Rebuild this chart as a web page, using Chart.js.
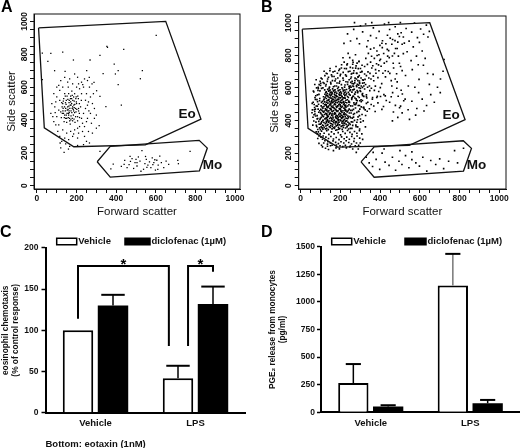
<!DOCTYPE html>
<html>
<head>
<meta charset="utf-8">
<script src="https://cdn.jsdelivr.net/npm/chart.js@4.4.0/dist/chart.umd.min.js"></script>
<style>
html, body { margin: 0; padding: 0; background: #fff; }
#fig { position: relative; width: 520px; height: 448px; overflow: hidden; font-family: "Liberation Sans", Arial, sans-serif; }
.panel { position: absolute; }
.letter { position: absolute; font-weight: bold; font-size: 16px; line-height: 1; color: #000; }
</style>
</head>
<body>
<div id="fig">
  <div class="panel" style="left:0;top:0;width:260px;height:224px"><canvas id="chartA"></canvas></div>
  <div class="panel" style="left:260px;top:0;width:260px;height:224px"><canvas id="chartB"></canvas></div>
  <div class="panel" style="left:0;top:225px;width:260px;height:223px"><canvas id="chartC"></canvas></div>
  <div class="panel" style="left:260px;top:225px;width:260px;height:223px"><canvas id="chartD"></canvas></div>
  <div class="letter" style="left:1px;top:-1px">A</div>
  <div class="letter" style="left:261px;top:-1px">B</div>
  <div class="letter" style="left:0px;top:224px">C</div>
  <div class="letter" style="left:261px;top:224px">D</div>
</div>
<script>
// ---------- Dados ----------
const scatterTickLabels = [0, 200, 400, 600, 800, 1000];
const eoGate = [[8,960],[650,1000],[828,405],[547,248],[186,237],[37,352],[8,960]];
const moGate = [[304,146],[370,239],[819,276],[860,229],[820,90],[370,52],[304,146]];

const eventsA = `
155,480 162,455 148,520 170,510 140,430 178,470 190,445 165,395 132,470 185,540 150,410 200,500 172,425 125,505 160,560 195,470
143,545 180,395 210,455 168,490 137,390 152,440 188,515 205,420 176,575 128,440 163,520 198,540 145,470 184,430 158,600 214,500
172,455 135,530 192,385 160,430 147,495 201,465 175,530 123,415 168,375 186,490 157,465 140,560 209,530 178,410 131,455 195,420
162,505 150,385 220,480 183,465 144,505 170,545 205,395 127,480 190,560 159,440 172,490 138,415 214,440 181,520 152,545 199,510
165,410 130,500 187,405 156,525 176,445 143,455 224,520 166,470 191,495 134,440 206,545 158,415 180,480 148,430 169,530 197,450
161,485 139,480 210,470 175,500 153,460 185,455 120,450 163,445 196,530 145,410 178,550 215,415 133,515 171,400 188,475
90,480 75,500 100,420 85,560 110,610 95,370 105,330 80,420 115,520 70,440 235,600 250,560 260,510 245,470 270,440 230,380
255,410 280,500 240,650 225,630 265,600 290,470 275,380 300,430 285,560 230,330 210,320 190,340 170,330 150,320 130,340 115,300
140,290 160,280 180,300 205,290 240,300 260,330 280,320 125,270 145,255 250,270 235,250 265,260 100,600 120,640 140,660 165,650
190,680 210,620 180,620 130,600 115,580 95,510 85,390 110,370 225,560 245,520 215,590 235,440 255,490 270,540 225,410 240,360
215,360 205,660 255,640 278,620 200,600 155,630 110,460 100,540 92,445 262,455 290,410 300,350 250,390 205,350 185,315
602,915 356,842 438,830 27,807 130,813 55,757 184,765 268,765 318,793 390,740 89,700 142,696 410,700 396,680 532,700 522,651
334,682 410,615 27,645 426,491 348,481 314,365 301,578 318,544 264,659 251,700 288,629 231,615 353,848 70,805
137,203 159,223 117,260 318,209 205,245 120,230 165,240
385,132 426,118 443,154 472,148 480,165 495,140 505,120 512,175 520,150 530,213 538,100 545,135 552,160 560,125 568,145 575,110
582,170 590,140 598,95 605,155 612,125 620,180 628,140 640,110 652,150 665,130 711,154 714,134 773,209 373,103 455,110 465,128
488,105 500,160 525,88 548,178 585,128 610,100 470,178 440,130 505,140 555,112 595,158`;

const eventsB = `
112,347 131,352 139,344 158,349 166,356 183,343 197,351 209,346 226,354 241,348
103,361 118,358 127,366 144,362 151,369 172,360 179,367 190,358 204,364 218,371 233,360
99,377 110,372 124,381 137,375 149,383 161,374 175,379 188,385 196,373 213,380 229,376 244,383
106,392 117,388 129,395 141,390 154,398 167,387 181,394 193,390 202,399 215,391 226,396 238,389
97,406 113,402 122,410 135,404 146,412 158,406 170,401 185,409 198,404 207,413 221,407 236,411
104,419 115,424 128,417 139,425 151,420 163,416 176,423 189,418 199,426 212,419 224,424 240,418
109,433 120,437 133,430 144,438 156,433 168,440 179,431 192,436 205,432 216,439 231,434
100,447 116,451 126,444 138,452 149,446 160,454 172,448 183,455 195,445 208,451 219,447 234,453 245,446
107,462 119,458 131,466 142,460 153,467 165,461 177,469 188,459 201,465 213,460 226,467 239,461
112,476 124,472 136,479 147,474 159,481 170,475 182,482 194,473 206,480 218,476 230,483
103,490 117,486 128,494 140,488 152,495 163,489 175,497 187,490 199,496 210,487 222,493 237,489
114,504 126,500 137,507 149,502 160,509 172,503 184,510 196,501 207,508 219,503 232,509
110,518 121,514 133,521 145,516 156,523 168,517 180,524 191,515 203,522 216,517 228,524 242,519
118,531 129,535 141,529 153,537 165,530 176,538 188,532 200,539 211,531 224,537
115,546 127,550 139,544 150,551 162,546 174,553 186,547 197,554 209,545 222,552 236,547
122,561 134,566 146,559 158,565 170,560 182,567 194,561 205,568 218,562 231,566
129,576 141,580 153,574 165,582 177,575 189,583 201,576 214,581 226,575
136,591 149,587 161,594 173,588 186,596 198,589 211,593 223,587
108,355 125,349 149,357 170,351 192,347 215,358 235,365 114,368 133,371 160,364 186,372 210,368 240,372
103,384 130,386 156,380 178,388 207,385 222,384 111,399 135,398 162,394 189,400 216,401 232,398
99,414 128,411 155,414 181,415 204,418 229,414 110,428 137,427 162,428 186,427 211,428 238,427
104,440 130,441 158,441 175,442 201,441 226,440 112,455 133,458 156,458 180,460 204,457 228,459
101,469 127,468 150,473 174,466 197,470 222,471 244,470 108,483 131,484 155,486 179,486 201,485 225,484
121,497 146,496 169,499 192,498 216,498 243,497 105,511 130,512 154,514 176,513 199,513 224,512
116,526 139,525 162,527 185,527 208,526 235,527 123,541 147,540 170,542 193,540 217,540 240,541
131,556 155,557 179,555 203,556 228,557 126,571 149,571 171,571 196,570 220,571 240,573 144,585 167,583 192,584 217,585 231,590
143,397 176,418 128,463 201,489 159,532 187,376 214,512 136,551 171,441 197,425 152,506 223,462 181,547 134,418 209,395
165,478 192,528 147,444 219,538 176,392 129,497 204,456 158,571 186,489 141,527 213,423 168,402 195,559 153,469 227,494
181,431 137,482 208,548 162,513 189,406 145,561 221,436 173,524 199,472 131,439
62,420 71,455 68,498 77,390 83,430 88,470 74,530 85,515 92,560 66,575 80,600 91,395 95,355 86,345 79,370 70,480 90,500
96,535 87,585 93,620 72,440 83,410 59,465 98,640 76,552 84,488
57,448 63,512 66,397 69,466 72,541 75,428 78,489 81,362 84,557 86,412 88,603 91,451 93,377 95,521 97,582 99,344 101,628
64,580 71,621 78,650 85,318 92,305 58,505 61,372 67,435 74,470 82,528 89,596 96,460 103,660
250,352 262,370 255,392 271,401 248,425 266,438 283,450 259,462 276,477 252,490 290,492 268,508 281,525 257,537 295,541
249,556 272,563 288,578 263,588 301,598 254,604 310,560 298,470 305,515 286,405 296,430 315,480 279,362 302,390 260,415
244,597 258,574
252,417 287,361 263,548 319,472 248,583 301,409 276,497 333,538 258,352 294,601 271,443 312,566 283,389 246,511 327,431
266,609 305,484 289,547 251,462 322,593 278,372 298,521 261,489 315,398 284,584 257,529 309,437 272,561 331,505 249,376
293,455 266,421 318,612 281,509 302,578 254,446 326,361 289,422 270,592 311,523 245,610 297,348 279,533 262,391 335,457
105,335 118,322 131,338 142,315 155,330 168,318 177,340 189,326 201,312 212,333 224,321 236,339 248,327 259,315 271,333
283,322 296,338 113,305 127,298 140,290 152,302 165,287 179,296 193,283 206,300 219,288 232,298 245,285 257,302 270,290
284,305 297,292 122,276 137,270 149,262 163,275 176,266 190,258 203,270 217,262 229,276 242,265 256,256 268,272 281,262
110,285 98,318 102,298 89,330 308,318 312,284 300,262 292,248 275,245 250,243 225,248 198,245 180,250 158,248 135,255 116,262
112,600 126,612 118,628 134,640 145,605 152,625 160,645 171,612 183,630 176,655 190,605 197,640 205,620 213,660 221,605
228,638 236,622 244,650 251,612 259,640 266,625 274,660 282,608 288,645 297,628 305,612 312,650 320,632 140,665 155,680
168,670 185,690 199,675 214,695 226,680 240,700 255,685 268,705 281,690 295,675 308,700 322,685 129,690 147,705 172,702
196,715 230,718 262,722 290,718 108,655 122,675 100,615
105,597 113,633 121,588 128,621 136,655 143,598 151,634 158,671 165,607 173,643 180,612 187,661 194,629 201,684 208,601
215,647 223,618 230,672 237,636 244,609 252,658 259,627 266,691 273,645 281,613 288,667 296,632 118,702 133,687 148,719
163,698 178,731 192,707 206,742 221,719 235,748 250,726 264,757 279,735 293,762
243,512 251,588 266,549 272,631 247,603 259,541 276,574 255,667 263,612 270,498 281,655 244,562 268,590 252,634
287,570 296,642 311,603 283,689 304,661 318,548 292,617 308,701 285,622 315,648 299,583 290,668 312,629 301,719
327,621 339,698 354,655 322,731 346,612 358,722 331,675 349,689 336,744 324,652 356,598 343,661 352,758
366,672 382,748 394,705 371,781 389,663 363,736 398,768 377,712 385,799 368,644 392,741 379,690
405,733 418,811 433,762 411,847 426,705 438,795 402,776 421,752 436,836 414,690 429,871
446,786 459,868 472,812 451,905 466,751 478,842 443,829 462,796 475,890
486,842 497,915 511,868 492,795 506,938 517,810 489,881
248,702 262,745 277,721 294,763 309,739 258,688 284,752 301,696
331,557 348,583 362,541 376,611 393,578 408,626 419,559 337,604 371,585 401,602 386,548
328,781 341,812 357,794 369,845 384,826 399,861 412,889 352,838 333,853 394,803
427,668 441,701 456,645 468,722 483,687 497,751 511,706 449,689 476,655 503,731
205,722 219,758 233,741 247,786 262,769 276,803 213,785 239,812
266,468 279,503 291,457 304,527 318,481 331,546 273,538 296,492 312,552 325,465 338,512 285,521
346,472 361,531 375,455 389,508 402,547 417,486 431,523 355,498 383,541 409,468 426,551 368,489
448,512 463,571 477,493 491,549 506,586 519,521 456,546 484,598 498,478 512,563
218,873 236,931 251,888 267,959 283,902 296,871 312,944 327,992 339,889 352,921 366,968 381,906 395,947 409,874 422,991
437,923 448,958 463,897 476,975 489,931 502,1000 517,912 531,964 546,887 559,942 573,998 588,908 604,961 619,929 633,985
648,947 271,1000 301,981 358,1000 443,1000 522,875 567,852 598,879 641,912 612,826 583,795 556,767 536,822 592,742 627,781
612,531 467,452 689,604 548,407 503,488 655,559 579,433 526,531 704,655 462,398 634,492 594,571 541,466 717,702 673,512
489,419 560,518 621,458 585,474 648,622 511,447 703,571 542,612 667,683 596,652 562,712 618,739 575,604 528,676 639,688
722,774 486,637 459,612
110,238 125,230 140,222 150,245 165,215 178,232 195,226 212,240 230,232 248,238 262,225 280,205 105,248 135,242 92,260
86,290 78,330 290,225
345,140 362,118 380,162 398,100 410,200 425,145 445,125 462,175 478,95 495,150 510,130 528,185 545,110 560,160 580,140
598,120 615,175 635,90 655,155 680,130 700,165 720,105 745,150 775,215 790,140 820,230 500,215 420,225 560,208 365,205 330,175`;

const categories = ['Vehicle', 'LPS'];
const seriesNames = ['Vehicle', 'diclofenac (1µM)'];

// C: quimiotaxia de eosinófilos (% da resposta controle)
const chemoVehicle = [100, 42];
const chemoDiclofenac = [130, 132];
const chemoVehicleErr = [0, 15];
const chemoDiclofenacErr = [13, 21];
const chemoTicks = [0, 50, 100, 150, 200];
// colchetes de significância: [dataset, categoria, deslocamento em larguras de barra]
const chemoBrackets = [
  { from: [0, 0, 0], to: [0, 1, -0.3], top: 178, legs: [114, 81] },
  { from: [0, 1, 0.33], to: [1, 1, 0], top: 178, legs: [81, 171] }
];
const starLevel = 185;

// D: liberação de PGE2 (pg/ml)
const pgeVehicle = [265, 1148];
const pgeDiclofenac = [52, 82];
const pgeVehicleErr = [172, 287];
const pgeDiclofenacErr = [12, 30];
const pgeTicks = [0, 250, 500, 750, 1000, 1250, 1500];

// ---------- Utilidades ----------
const FONT = '"Liberation Sans", Arial, sans-serif';
Chart.defaults.font.family = FONT;
Chart.defaults.color = '#111';
Chart.defaults.animation = false;

const toPts = (s) => s.trim().split(/\s+/).map(p => { const [x, y] = p.split(',').map(Number); return { x, y }; });
const toXY = (arr) => arr.map(([x, y]) => ({ x, y }));

function line(ctx, x1, y1, x2, y2){
  ctx.beginPath(); ctx.moveTo(x1, y1); ctx.lineTo(x2, y2); ctx.stroke();
}

// ---------- Plugins ----------
const frame = {
  id: 'frame',
  afterDatasetsDraw(chart){
    const { ctx, chartArea: a } = chart;
    ctx.save();
    ctx.strokeStyle = '#111'; ctx.lineWidth = 1;
    ctx.strokeRect(a.left, a.top, a.right - a.left, a.bottom - a.top);
    ctx.restore();
  }
};

const rotatedYTicks = {
  id: 'rotatedYTicks',
  afterDraw(chart, args, opts){
    const { ctx } = chart;
    const y = chart.scales.y;
    ctx.save();
    ctx.font = `bold 8.5px ${FONT}`;
    ctx.fillStyle = '#111'; ctx.textAlign = 'center'; ctx.textBaseline = 'middle';
    for(const v of scatterTickLabels){
      ctx.save();
      ctx.translate(opts.x, y.getPixelForValue(v));
      ctx.rotate(-Math.PI / 2);
      ctx.fillText(String(v), 0, 0);
      ctx.restore();
    }
    ctx.restore();
  }
};

const gateLabels = {
  id: 'gateLabels',
  afterDatasetsDraw(chart, args, opts){
    const { ctx } = chart;
    ctx.save();
    ctx.font = `bold 13.5px ${FONT}`;
    ctx.fillStyle = '#111'; ctx.textAlign = 'center'; ctx.textBaseline = 'middle';
    for(const it of opts.items){
      ctx.fillText(it.text, chart.scales.x.getPixelForValue(it.x), chart.scales.y.getPixelForValue(it.y));
    }
    ctx.restore();
  }
};

const boxLegend = {
  id: 'boxLegend',
  afterDraw(chart, args, opts){
    const { ctx } = chart;
    ctx.save();
    ctx.font = `bold 9.5px ${FONT}`;
    ctx.textBaseline = 'middle';
    chart.data.datasets.forEach((ds, i) => {
      const it = opts.items[i];
      ctx.fillStyle = ds.backgroundColor;
      ctx.fillRect(it.x, opts.y - opts.h / 2, it.w, opts.h);
      ctx.strokeStyle = '#000'; ctx.lineWidth = 1.5;
      ctx.strokeRect(it.x, opts.y - opts.h / 2, it.w, opts.h);
      ctx.fillStyle = '#111';
      ctx.fillText(ds.label, it.x + it.w + 1.5, opts.y);
    });
    ctx.restore();
  }
};

const errorBars = {
  id: 'errorBars',
  afterDatasetsDraw(chart, args, opts){
    const { ctx } = chart;
    const y = chart.scales.y;
    ctx.save();
    chart.data.datasets.forEach((ds, di) => {
      chart.getDatasetMeta(di).data.forEach((bar, i) => {
        const e = ds.errors[i];
        if(!e) return;
        const top = y.getPixelForValue(ds.data[i] + e);
        const cap = bar.width * opts.cap;
        ctx.strokeStyle = (ds.errorColors && ds.errorColors[i]) || '#000';
        ctx.lineWidth = 1.5;
        line(ctx, bar.x, bar.y, bar.x, top);
        ctx.strokeStyle = '#000'; ctx.lineWidth = 2;
        line(ctx, bar.x - cap / 2, top, bar.x + cap / 2, top);
      });
    });
    ctx.restore();
  }
};

const sigBrackets = {
  id: 'sigBrackets',
  afterDatasetsDraw(chart, args, opts){
    if(!opts.items) return;
    const { ctx } = chart;
    const y = chart.scales.y;
    const px = ([d, c, off]) => { const b = chart.getDatasetMeta(d).data[c]; return b.x + off * b.width; };
    ctx.save();
    ctx.strokeStyle = '#000'; ctx.lineWidth = 2; ctx.lineJoin = 'miter';
    ctx.fillStyle = '#000';
    ctx.font = `bold 15px ${FONT}`; ctx.textAlign = 'center'; ctx.textBaseline = 'alphabetic';
    for(const b of opts.items){
      const x1 = px(b.from), x2 = px(b.to), yt = y.getPixelForValue(b.top);
      ctx.beginPath();
      ctx.moveTo(x1, y.getPixelForValue(b.legs[0]));
      ctx.lineTo(x1, yt); ctx.lineTo(x2, yt);
      ctx.lineTo(x2, y.getPixelForValue(b.legs[1]));
      ctx.stroke();
      ctx.fillText('*', (x1 + x2) / 2, y.getPixelForValue(opts.star) + 0.57 * 15);
    }
    ctx.restore();
  }
};

// ---------- Gráficos de dispersão (A, B) ----------
function scatterChart(id, events, box){
  const W = 260, H = 224;
  const keep = (s) => { s.ticks = s.ticks.filter(t => t.value >= 0 && t.value <= 1000); };
  return new Chart(document.getElementById(id), {
    type: 'scatter',
    data: {
      datasets: [
        { label: 'Eo', data: toXY(eoGate), showLine: true, pointRadius: 0, borderColor: '#111', borderWidth: 1.3, fill: false },
        { label: 'Mo', data: toXY(moGate), showLine: true, pointRadius: 0, borderColor: '#111', borderWidth: 1.3, fill: false },
        { label: 'eventos', data: toPts(events), pointStyle: 'rect', pointRadius: box.r, pointBorderWidth: 0, backgroundColor: '#000' }
      ]
    },
    options: {
      responsive: true, maintainAspectRatio: false,
      layout: { padding: { left: 0, top: box.top, right: W - box.right, bottom: 0 } },
      plugins: {
        legend: { display: false }, tooltip: { enabled: false },
        rotatedYTicks: { x: box.yTickX },
        gateLabels: { items: [ { text: 'Eo', x: 758, y: 435 }, { text: 'Mo', x: 886, y: 124 } ] }
      },
      scales: {
        x: {
          type: 'linear', min: box.xMin, max: box.xMax,
          afterFit: (s) => { s.height = H - box.bottom; },
          afterBuildTicks: keep,
          ticks: { stepSize: 50, includeBounds: false, autoSkip: false, maxRotation: 0, padding: 1, color: '#111',
            font: { size: 8.5, weight: 'bold' },
            callback: (v) => scatterTickLabels.includes(v) ? String(v) : '' },
          grid: { drawOnChartArea: false, drawTicks: true, tickLength: 4, color: '#111' },
          border: { display: true, color: '#111', width: 1 },
          title: { display: true, text: 'Forward scatter', color: '#111', font: { size: 11.5 }, padding: { top: 0, bottom: 5 } }
        },
        y: {
          type: 'linear', min: box.yMin, max: box.yMax,
          afterFit: (s) => { s.width = box.left; },
          afterBuildTicks: keep,
          ticks: { stepSize: 50, includeBounds: false, display: false },
          grid: { drawOnChartArea: false, drawTicks: true, tickLength: 4, color: '#111' },
          border: { display: true, color: '#111', width: 1 },
          title: { display: true, text: 'Side scatter', color: '#111', font: { size: 11.5 }, padding: { top: box.yTitlePad, bottom: 0 } }
        }
      }
    },
    plugins: [frame, rotatedYTicks, gateLabels]
  });
}

// ---------- Gráficos de barras (C, D) ----------
function barChart(id, cfg){
  const W = 260, H = 223;
  return new Chart(document.getElementById(id), {
    type: 'bar',
    data: {
      labels: categories,
      datasets: [
        { label: seriesNames[0], data: cfg.white, errors: cfg.whiteErr, errorColors: cfg.whiteErrColors,
          backgroundColor: '#fff', borderColor: '#000', borderWidth: 2 },
        { label: seriesNames[1], data: cfg.black, errors: cfg.blackErr,
          backgroundColor: '#000', borderColor: '#000', borderWidth: 0 }
      ]
    },
    options: {
      responsive: true, maintainAspectRatio: false,
      layout: { padding: { left: 0, top: cfg.top, right: W - cfg.right, bottom: 0 } },
      datasets: { bar: { categoryPercentage: 0.7, barPercentage: 0.87 } },
      plugins: {
        legend: { display: false }, tooltip: { enabled: false },
        boxLegend: { y: 16.5, h: 6.5, items: cfg.legend },
        errorBars: { cap: cfg.cap },
        sigBrackets: { items: cfg.brackets, star: starLevel }
      },
      scales: {
        x: {
          afterFit: (s) => { s.height = H - cfg.bottom; },
          grid: { display: false },
          border: { display: true, color: '#000', width: 2 },
          ticks: { color: '#111', padding: -3, font: { size: 9.5, weight: 'bold' } },
          title: cfg.xTitle
            ? { display: true, text: cfg.xTitle, align: 'start', color: '#111', font: { size: 9.5, weight: 'bold', lineHeight: 1 }, padding: { top: 0, bottom: -1 } }
            : { display: false }
        },
        y: {
          min: 0, max: cfg.ticks[cfg.ticks.length - 1],
          afterFit: (s) => { s.width = cfg.left; },
          afterBuildTicks: (s) => { s.ticks = cfg.ticks.map(v => ({ value: v })); },
          ticks: { color: '#111', padding: cfg.tickPad, font: { size: 8.5, weight: 'bold' }, callback: (v) => String(v) },
          grid: { drawOnChartArea: false, drawTicks: true, tickLength: 4, tickWidth: 1.5, color: '#000' },
          border: { display: true, color: '#000', width: 2 },
          title: { display: true, text: cfg.yTitle, color: '#111', font: { size: 8.3, weight: 'bold', lineHeight: 1.2 }, padding: { top: cfg.yTitlePad, bottom: 0 } }
        }
      }
    },
    plugins: [errorBars, sigBrackets, boxLegend]
  });
}

function bind(){
  scatterChart('chartA', eventsA, { left: 34, right: 240, top: 14, bottom: 189, xMin: -15, xMax: 1025, yMin: -20, yMax: 1045, yTickX: 25, yTitlePad: 5, r: 0.9 });
  scatterChart('chartB', eventsB, { left: 38.7, right: 246, top: 16, bottom: 189, xMin: -10, xMax: 1034, yMin: -20, yMax: 1041, yTickX: 28.5, yTitlePad: 8, r: 1.15 });

  barChart('chartC', {
    white: chemoVehicle, black: chemoDiclofenac, whiteErr: chemoVehicleErr, blackErr: chemoDiclofenacErr,
    ticks: chemoTicks, left: 45.5, right: 245.5, top: 22.8, bottom: 187.8, tickPad: 3,
    yTitle: ['eosinophil chemotaxis', '(% of control response)'], yTitlePad: 1,
    xTitle: 'Bottom: eotaxin (1nM)', cap: 0.77,
    legend: [ { x: 56.7, w: 20 }, { x: 125, w: 25 } ],
    brackets: chemoBrackets
  });
  barChart('chartD', {
    white: pgeVehicle, black: pgeDiclofenac, whiteErr: pgeVehicleErr, blackErr: pgeDiclofenacErr, whiteErrColors: ['#000', '#777'],
    ticks: pgeTicks, left: 61, right: 260, top: 21.7, bottom: 187.3, tickPad: 2,
    yTitle: ['PGE\u2082 release from monocytes', '(pg/ml)'], yTitlePad: 8,
    xTitle: null, cap: 0.5,
    legend: [ { x: 71.7, w: 20 }, { x: 145, w: 21 } ],
    brackets: null
  });
}

document.addEventListener('DOMContentLoaded', bind);
</script>
</body>
</html>
